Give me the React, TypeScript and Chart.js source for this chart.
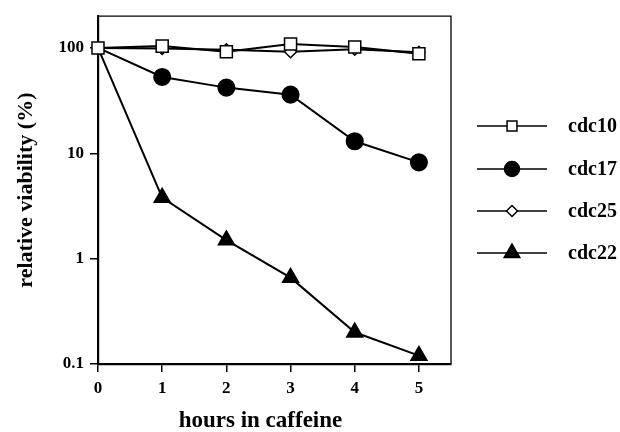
import React, { useEffect, useRef } from "react";
import { Chart, registerables } from "chart.js";

Chart.register(...registerables);

const hours = [0, 1, 2, 3, 4, 5];
const cdc10 = [100, 104, 92, 109, 102, 88];
const cdc17 = [100, 53, 42, 36, 13, 8.2];
const cdc25 = [100, 99, 96, 92, 97, 91];
const cdc22 = [100, 3.8, 1.5, 0.66, 0.2, 0.12];
const xTicks = [0, 1, 2, 3, 4, 5];
const yTicks = [0.1, 1, 10, 100];
const seriesNames = ["cdc10", "cdc17", "cdc25", "cdc22"];
const xTitle = "hours in caffeine";
const yTitle = "relative viability (%)";

const FONT = '"Liberation Serif", "Times New Roman", serif';

function drawMarker(ctx: CanvasRenderingContext2D, kind: string, x: number, y: number, r: number) {
  ctx.save();
  ctx.lineWidth = 1.5;
  ctx.strokeStyle = "#000";
  ctx.beginPath();
  if (kind === "rect") {
    const s = r * Math.SQRT1_2;
    ctx.rect(x - s, y - s, 2 * s, 2 * s);
    ctx.fillStyle = "#fff";
  } else if (kind === "circle") {
    ctx.arc(x, y, r, 0, Math.PI * 2);
    ctx.fillStyle = "#000";
  } else if (kind === "rectRot") {
    ctx.moveTo(x, y - r);
    ctx.lineTo(x + r, y);
    ctx.lineTo(x, y + r);
    ctx.lineTo(x - r, y);
    ctx.closePath();
    ctx.fillStyle = "#fff";
  } else {
    ctx.moveTo(x, y - r);
    ctx.lineTo(x + r * 0.866, y + r / 2);
    ctx.lineTo(x - r * 0.866, y + r / 2);
    ctx.closePath();
    ctx.fillStyle = "#000";
  }
  ctx.fill();
  ctx.stroke();
  ctx.restore();
}

const customPlugin = {
  id: "custom",
  afterDraw(chart: any) {
    const { ctx, chartArea } = chart;
    const { left, right, top, bottom } = chartArea;
    ctx.save();
    ctx.strokeStyle = "#000";
    ctx.lineWidth = 1.3;
    ctx.beginPath();
    ctx.moveTo(left, top);
    ctx.lineTo(right, top);
    ctx.lineTo(right, bottom);
    ctx.stroke();

    ctx.fillStyle = "#000";
    ctx.textAlign = "center";
    ctx.textBaseline = "middle";
    const xs = chart.scales.x;
    const cx = (xs.getPixelForValue(xTicks[0]) + xs.getPixelForValue(xTicks[xTicks.length - 1])) / 2;
    ctx.font = `bold 23px ${FONT}`;
    ctx.fillText(xTitle, cx + 2, 421);
    ctx.save();
    ctx.translate(26, (top + bottom) / 2);
    ctx.rotate(-Math.PI / 2);
    ctx.font = `bold 22px ${FONT}`;
    ctx.fillText(yTitle, 0, 0);
    ctx.restore();

    const kinds = ["rect", "circle", "rectRot", "triangle"];
    const radii = [7, 7.5, 5.5, 9];
    const rows = [126, 169, 211, 253];
    ctx.font = `bold 20px ${FONT}`;
    ctx.textAlign = "left";
    for (let i = 0; i < seriesNames.length; i++) {
      const y = rows[i];
      ctx.lineWidth = 1.6;
      ctx.beginPath();
      ctx.moveTo(477, y);
      ctx.lineTo(547, y);
      ctx.stroke();
      drawMarker(ctx, kinds[i], 512, y, radii[i]);
      ctx.fillStyle = "#000";
      ctx.fillText(seriesNames[i], 568, y + 1);
    }
    ctx.restore();
  },
};

export default function App() {
  const ref = useRef<HTMLCanvasElement | null>(null);
  useEffect(() => {
    document.body.style.margin = "0";
    const canvas = ref.current!;
    const mk = (label: string, data: number[], style: string, r: number, fill: string, showFirst: boolean) => ({
      label,
      data: hours.map((h, i) => ({ x: h, y: data[i] })),
      borderColor: "#000",
      borderWidth: 2,
      pointStyle: style,
      pointRadius: hours.map((_, i) => (i === 0 && !showFirst ? 0 : r)),
      pointBackgroundColor: fill,
      pointBorderColor: "#000",
      pointBorderWidth: 1.5,
      clip: false,
      tension: 0,
    });
    const chart = new Chart(canvas, {
      type: "line",
      data: {
        datasets: [
          mk("cdc10", cdc10, "rect", 8.5, "#fff", true),
          mk("cdc17", cdc17, "circle", 8.3, "#000", false),
          mk("cdc25", cdc25, "rectRot", 6, "#fff", false),
          mk("cdc22", cdc22, "triangle", 9.2, "#000", false),
        ] as any,
      },
      options: {
        animation: false,
        responsive: false,
        maintainAspectRatio: false,
        layout: { padding: { left: 0, top: 12, right: 169, bottom: 0 } },
        plugins: { legend: { display: false }, tooltip: { enabled: false } },
        scales: {
          x: {
            type: "linear",
            min: 0,
            max: 5.5,
            afterBuildTicks: (s: any) => {
              s.ticks = xTicks.map((v) => ({ value: v }));
            },
            afterFit: (s: any) => {
              s.height = 68;
            },
            border: { color: "#000", width: 2.2 },
            grid: { drawOnChartArea: false, drawTicks: true, tickLength: 8, color: "#000", lineWidth: 1.5 },
            ticks: {
              color: "#000",
              font: { family: FONT, size: 17, weight: "bold" },
              padding: 6,
              maxRotation: 0,
              callback: (v: any) => String(v),
            },
          },
          y: {
            type: "logarithmic",
            min: 0.1,
            max: 200,
            afterBuildTicks: (s: any) => {
              s.ticks = yTicks.map((v) => ({ value: v }));
            },
            afterFit: (s: any) => {
              s.width = 98;
            },
            border: { color: "#000", width: 2.2 },
            grid: { drawOnChartArea: false, drawTicks: true, tickLength: 8, color: "#000", lineWidth: 1.5 },
            ticks: {
              color: "#000",
              font: { family: FONT, size: 17, weight: "bold" },
              padding: 6,
              callback: (v: any) => String(v),
            },
          },
        },
      } as any,
      plugins: [customPlugin],
    });
    return () => chart.destroy();
  }, []);
  return <canvas ref={ref} width={620} height={432} style={{ display: "block", width: 620, height: 432 }} />;
}
